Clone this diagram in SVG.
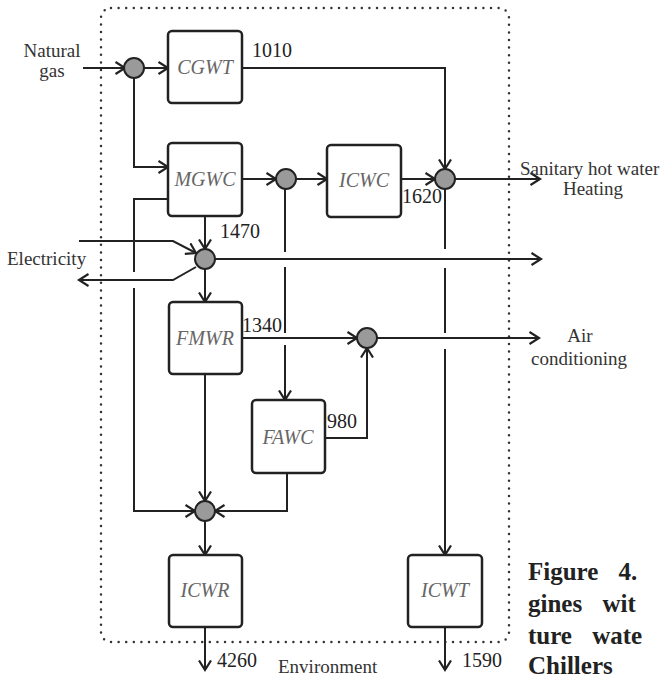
<svg xmlns="http://www.w3.org/2000/svg" width="669" height="678" viewBox="0 0 669 678">
<defs>
<marker id="arr" markerUnits="userSpaceOnUse" markerWidth="14" markerHeight="14" refX="10" refY="6" orient="auto" viewBox="0 0 14 12">
<path d="M0.5,0 L10,6 L0.5,12" fill="none" stroke="#222" stroke-width="2.2" stroke-linejoin="miter"/>
</marker>
</defs>
<style>
.box{fill:#fff;stroke:#222;stroke-width:2.5}
.node{font-style:italic;font-size:20px;fill:#666;text-anchor:middle}
.dot{fill:#9a9a9a;stroke:#222;stroke-width:2}
.c{fill:none;stroke:#222;stroke-width:2}
.ca{fill:none;stroke:#222;stroke-width:2;marker-end:url(#arr)}
.lbl{font-size:19px;fill:#333}
.num{font-size:20px;fill:#222}
.cap{font-size:25px;font-weight:bold;fill:#222;word-spacing:14px}
.border{fill:none;stroke:#333;stroke-width:2.5;stroke-dasharray:0 7.6;stroke-linecap:round}
</style>
<rect class="border" x="101" y="8" width="408" height="634" rx="10"/>
<g id="connectors">
<path class="ca" d="M83,68 H125"/>
<path class="ca" d="M144,68 H168"/>
<path class="ca" d="M134,78 V167 H168"/>
<path class="ca" d="M242,68 H445 V169"/>
<path class="ca" d="M242,179 H276"/>
<path class="ca" d="M296,179 H327"/>
<path class="ca" d="M401,179 H435"/>
<path class="ca" d="M455,179 H540"/>
<path class="c" d="M168,199 H134 V272"/>
<path class="ca" d="M134,288 V511 H195"/>
<path class="ca" d="M205,216 V249"/>
<path class="ca" d="M79,241 H173 L196,253"/>
<path class="ca" d="M196,267 L173,280 H79"/>
<path class="ca" d="M205,269 V302"/>
<path class="ca" d="M215,259 H541"/>
<path class="c" d="M285,189 V252"/>
<path class="c" d="M285,267 V333"/>
<path class="ca" d="M285,345 V400"/>
<path class="ca" d="M242,338 H357"/>
<path class="ca" d="M377,338 H539"/>
<path class="c" d="M445,189 V249"/>
<path class="c" d="M445,268 V333"/>
<path class="ca" d="M445,349 V555"/>
<path class="ca" d="M325,438 H367 V348"/>
<path class="ca" d="M205,374 V501"/>
<path class="ca" d="M287,473 V511 H215"/>
<path class="ca" d="M205,521 V555"/>
<path class="ca" d="M205,627 V670"/>
<path class="ca" d="M445,627 V670"/>
</g>
<g id="junctions">
<circle class="dot" cx="134" cy="68" r="10"/>
<circle class="dot" cx="286" cy="179" r="10"/>
<circle class="dot" cx="445" cy="179" r="10"/>
<circle class="dot" cx="205" cy="259" r="10"/>
<circle class="dot" cx="367" cy="338" r="10"/>
<circle class="dot" cx="205" cy="511" r="10"/>
</g>
<g font-family="Liberation Serif, serif">
<g id="CGWT"><rect class="box" x="168" y="31" width="74" height="72" rx="4"/><text class="node" x="205" y="74">CGWT</text></g>
<g id="MGWC"><rect class="box" x="168" y="143" width="74" height="73" rx="4"/><text class="node" x="205" y="186">MGWC</text></g>
<g id="ICWC"><rect class="box" x="327" y="145" width="74" height="72" rx="4"/><text class="node" x="364" y="187">ICWC</text></g>
<g id="FMWR"><rect class="box" x="169" y="302" width="73" height="72" rx="4"/><text class="node" x="205" y="345">FMWR</text></g>
<g id="FAWC"><rect class="box" x="252" y="400" width="73" height="73" rx="4"/><text class="node" x="288" y="444">FAWC</text></g>
<g id="ICWR"><rect class="box" x="169" y="555" width="73" height="72" rx="4"/><text class="node" x="205" y="597">ICWR</text></g>
<g id="ICWT"><rect class="box" x="408" y="555" width="74" height="72" rx="4"/><text class="node" x="445" y="597">ICWT</text></g>
<g id="labels">
<text class="num" x="252" y="57">1010</text>
<text class="num" x="402" y="203">1620</text>
<text class="num" x="220" y="238">1470</text>
<text class="num" x="242" y="332">1340</text>
<text class="num" x="327" y="428">980</text>
<text class="num" x="217" y="667">4260</text>
<text class="num" x="462" y="667">1590</text>
<text class="lbl" x="278" y="673">Environment</text>
<text class="lbl" x="52" y="57" text-anchor="middle">Natural</text>
<text class="lbl" x="52" y="77" text-anchor="middle">gas</text>
<text class="lbl" x="7" y="265">Electricity</text>
<text class="lbl" x="520" y="175">Sanitary hot water</text>
<text class="lbl" x="593" y="195" text-anchor="middle">Heating</text>
<text class="lbl" x="580" y="342" text-anchor="middle">Air</text>
<text class="lbl" x="579" y="365" text-anchor="middle">conditioning</text>
</g>
<g id="caption">
<text class="cap" x="528" y="580">Figure 4.</text>
<text class="cap" x="528" y="612">gines wit</text>
<text class="cap" x="528" y="644">ture wate</text>
<text class="cap" x="528" y="674">Chillers</text>
</g>
</g>
</svg>
